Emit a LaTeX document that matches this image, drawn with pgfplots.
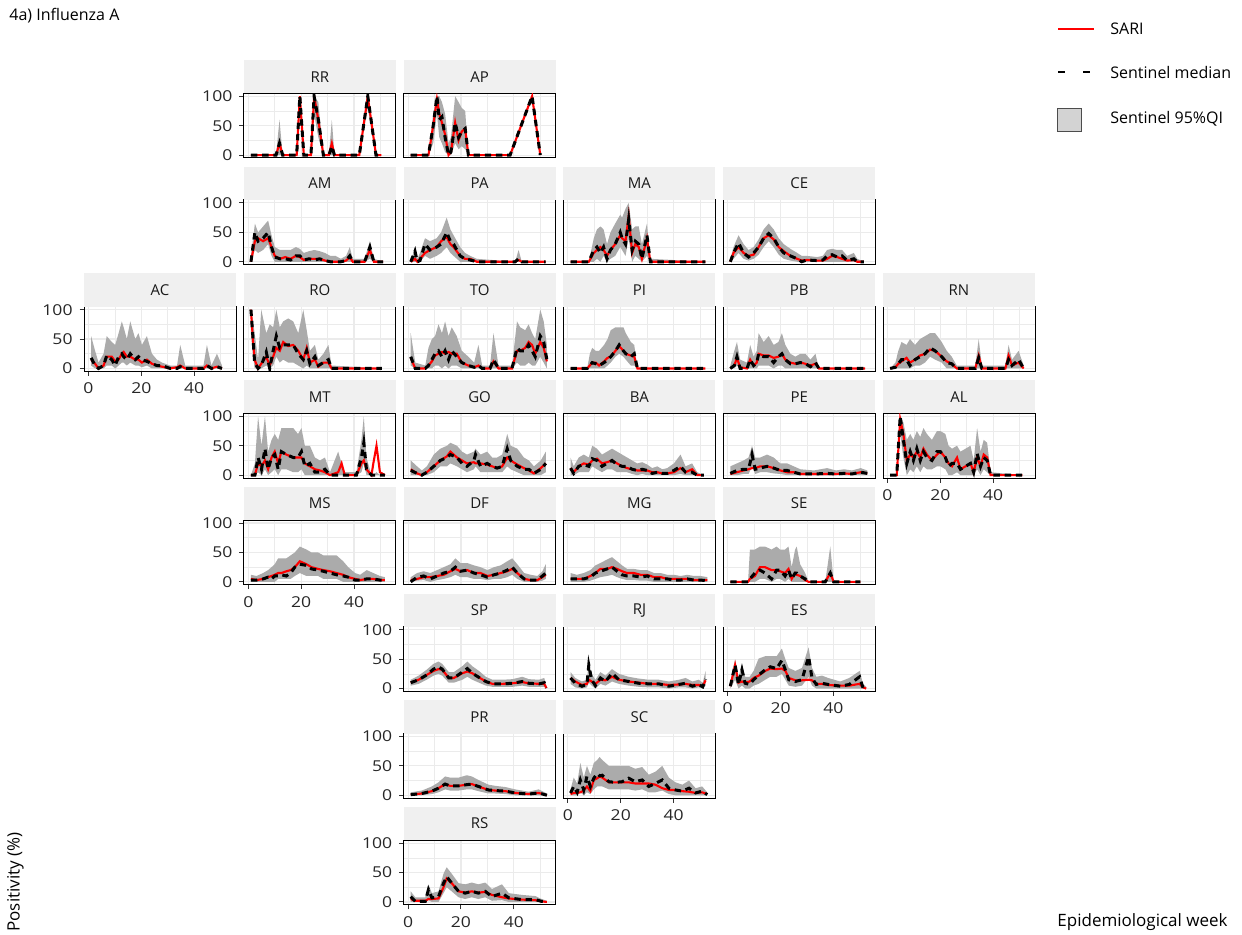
\documentclass[border=0pt]{standalone}
\usepackage{fontspec}
\setmainfont{Open Sans}
\newfontfamily\tickfontfam{Open Sans}[FakeStretch=1.17]
\usepackage{pgfplots}
\usepackage{pgfplotstable}
\pgfplotsset{compat=1.18}
\usepgfplotslibrary{fillbetween}
\definecolor{bandc}{HTML}{ABABAB}
\definecolor{gridc}{HTML}{EBEBEB}
\definecolor{stripc}{HTML}{F0F0F0}
\definecolor{legbox}{HTML}{D3D3D3}
\definecolor{sarired}{HTML}{FF0000}

% columns: week, lower 95%QI, upper 95%QI, sentinel median, SARI
\pgfplotstableread{
w lo hi med sari
1 0 0 0 0
10.5 0 0 0 0
11.8 0 60 20 20
13 0 0 0 0
18.3 0 0 0 0
19.5 80 100 100 100
21 0 0 0 0
23.7 0 0 0 0
24.9 70 100 100 100
26.5 30 90 60 60
28.4 0 0 0 0
30.5 0 0 0 0
31.6 0 60 15 20
32.6 0 0 0 0
42 0 0 0 0
45.2 80 100 100 100
48.3 0 0 0 0
50.3 0 0 0 0
}\tRR
\pgfplotstableread{
w lo hi med sari
1 0 0 0 0
7.7 0 0 0 0
9.5 20 70 50 50
10.9 70 100 100 95
11.8 30 100 60 70
12.8 20 90 65 55
14 5 70 30 35
15.3 0 20 0 0
16.2 0 30 5 5
17.8 20 100 55 55
19.1 10 90 30 25
20.3 15 80 40 40
21.6 10 75 45 45
22.8 0 0 0 0
38.6 0 0 0 0
46.9 95 100 100 100
50 0 0 0 0
}\tAP
\pgfplotstableread{
w lo hi med sari
1 0 10 0 0
2.5 20 65 50 35
3.7 15 50 35 40
5.6 20 60 40 35
7.5 30 70 50 40
8.8 10 45 25 25
10 0 25 8 10
12 0 20 5 5
14 0 20 5 8
16 0 20 3 5
18 0 25 10 10
19.5 0 22 10 8
21 0 15 3 3
23 0 18 5 5
25 0 20 3 5
27 0 18 5 5
29 0 15 2 2
31 0 10 0 0
33 0 10 0 0
35 0 5 0 0
37 0 10 2 2
38.4 0 25 10 8
39.5 0 5 0 0
44 0 5 0 0
46 5 35 25 20
47.5 0 5 0 0
51 0 0 0 0
}\tAM
\pgfplotstableread{
w lo hi med sari
1 0 0 0 0
2.6 0 25 18 5
3.5 0 5 0 0
4.5 0 15 2 5
6.4 10 40 30 15
8.3 5 35 20 20
10.8 10 40 25 25
12.5 15 50 30 35
14.6 25 75 50 42
16 15 55 35 30
17.2 10 45 30 25
19.7 0 25 10 10
21.5 0 15 5 5
23.5 0 10 3 5
26 0 5 0 0
40.5 0 0 0 0
41.8 0 20 5 3
43 0 0 0 0
52 0 0 0 0
}\tPA
\pgfplotstableread{
w lo hi med sari
1 0 0 0 0
7.9 0 0 0 0
9.8 0 40 20 15
11 5 55 25 20
12.3 0 60 15 25
13.5 10 55 25 20
14.8 0 30 5 10
16.1 5 50 20 20
17.9 10 65 30 30
19.8 25 80 50 45
20.5 20 75 40 40
21.8 10 90 30 35
23 40 100 72 78
24.3 0 55 20 15
25.5 10 60 35 30
26.8 5 60 30 25
28 0 30 5 5
29.9 10 65 45 40
31.2 0 5 0 0
52 0 0 0 0
}\tMA
\pgfplotstableread{
w lo hi med sari
1 0 5 0 0
2.2 5 25 15 15
4.1 15 45 32 25
6 5 30 15 15
7.9 2 20 8 10
9.8 5 25 15 12
11.7 12 38 25 25
13.6 25 55 40 40
15.5 35 65 48 45
17.4 25 55 40 38
19.3 12 40 25 25
21.2 5 30 15 18
23.7 2 22 10 10
26.3 0 15 5 5
28 0 10 0 2
30 0 10 3 3
33.8 0 8 2 2
36 0 10 3 2
37.6 0 20 10 5
39.5 0 22 12 10
41.4 0 20 8 8
43.3 0 20 10 5
45.2 0 10 2 2
47.7 0 15 5 3
49 0 5 0 0
51.5 0 0 0 0
}\tCE
\pgfplotstableread{
w lo hi med sari
1 5 55 18 15
2.5 0 30 5 8
3.8 0 10 0 0
5.7 0 25 5 5
6.9 5 55 22 20
8.8 5 45 15 20
10.1 0 40 5 12
11.4 5 60 20 15
12.6 10 80 25 25
13.3 10 70 20 28
14.5 5 50 15 20
15.8 10 80 25 20
17.7 5 50 15 15
18.9 5 60 20 15
20.2 2 40 15 10
22.1 5 55 12 15
24 0 25 8 8
25.9 0 15 5 5
27.8 0 10 5 3
30.9 0 5 0 0
33.5 0 5 0 2
34.7 0 40 3 5
36.6 0 5 0 0
43.5 0 5 0 0
44.8 0 40 5 5
46.5 0 5 0 0
48.6 0 25 3 3
50.5 0 5 0 0
}\tAC
\pgfplotstableread{
w lo hi med sari
1 60 100 100 100
1.8 20 80 50 45
2.4 0 60 10 15
3.7 0 15 0 0
4.9 0 100 5 8
6.8 5 60 28 20
8.1 0 75 0 5
9.4 5 70 30 20
10.6 20 100 55 35
11.9 10 70 35 30
13.2 15 80 40 45
15.1 10 85 40 38
17 10 80 40 40
18.9 5 60 25 30
20.8 0 100 15 15
22.1 5 65 30 35
23.3 0 30 8 10
25.2 0 40 20 15
26.5 0 15 5 3
28.4 0 25 10 10
30.3 0 40 15 10
31.5 0 5 0 0
50.5 0 0 0 0
}\tRO
\pgfplotstableread{
w lo hi med sari
1 5 60 20 18
2.7 0 10 0 0
6.5 0 5 0 0
7.7 0 35 5 5
9 0 50 15 12
10.2 5 55 25 22
11.5 5 75 30 25
12.8 0 60 20 28
14 5 80 30 25
15.3 0 55 15 28
16.5 5 70 30 25
18.4 5 55 20 25
20.3 0 30 10 10
22.8 0 20 5 5
25 0 10 2 2
26.6 0 40 5 5
28 0 5 0 0
31 0 5 0 0
32.3 0 60 15 12
34.2 0 5 0 0
39.3 0 5 0 0
41.2 10 80 35 30
42.4 5 70 30 30
44.3 5 65 30 35
45.6 10 75 40 45
46.9 5 60 30 40
48.1 5 50 20 25
50 20 100 55 45
51.3 10 80 45 35
52.5 0 40 15 12
}\tTO
\pgfplotstableread{
w lo hi med sari
1 0 0 0 0
7.3 0 0 0 0
8.3 0 25 5 5
9.2 0 35 10 10
10.5 0 30 8 10
11.8 0 30 5 5
13.7 0 40 10 12
15 5 50 15 18
16.2 10 65 20 20
18 20 70 30 30
19.4 25 70 40 38
21 20 70 30 30
21.9 15 60 25 25
23.8 5 45 20 22
25.1 5 40 25 20
26.3 0 0 0 0
52 0 0 0 0
}\tPI
\pgfplotstableread{
w lo hi med sari
1 0 5 0 0
2.5 0 30 5 5
3.5 5 45 20 18
4.7 0 15 0 2
7.3 0 10 0 0
8.5 0 40 15 15
9.8 0 20 5 5
11 0 30 10 10
11.7 5 60 25 25
13.6 5 45 20 22
15.5 5 55 20 22
17.4 0 40 10 18
19.2 5 45 20 20
20.5 5 60 25 25
21.8 0 40 15 15
23.7 0 25 8 10
25.6 0 20 8 8
27.5 0 25 10 10
29.4 0 25 8 8
31.3 0 15 3 5
33.2 0 25 10 8
34.5 0 0 0 0
52 0 0 0 0
}\tPB
\pgfplotstableread{
w lo hi med sari
1 0 0 0 0
3 0 10 2 2
4.1 0 30 8 8
5.3 0 45 15 12
7.2 0 40 15 18
8.5 0 50 5 10
10.4 5 40 15 15
12.3 5 50 20 22
14.2 10 55 25 25
16.1 20 60 35 32
18 15 60 30 30
20.5 10 45 20 20
22.4 0 30 10 12
24.3 0 20 8 8
26.2 0 5 0 0
33.2 0 5 0 0
34.5 0 50 18 22
35.7 0 5 0 0
44.6 0 5 0 0
45.8 0 40 15 22
47.1 0 15 5 5
49.6 0 30 15 10
51.5 0 5 0 0
}\tRN
\pgfplotstableread{
w lo hi med sari
1 0 0 0 0
2.5 0 20 0 0
3.7 5 100 30 20
5 0 50 10 15
6.3 10 100 45 25
7.5 0 40 10 10
8.8 5 60 30 30
10 10 70 35 40
11.3 0 60 10 20
12.5 10 80 40 40
14.4 10 80 35 35
17 5 80 30 30
18.8 5 70 30 30
20.1 10 80 40 30
21.4 0 50 15 20
23.3 0 50 20 15
25.2 0 30 5 10
27.1 0 25 5 8
29 0 30 10 5
30.9 0 5 0 0
34 0 40 0 5
35.3 0 20 0 20
36.5 0 5 0 0
40.9 0 5 0 0
42.8 5 60 30 20
43.7 20 100 55 25
44.7 0 30 10 10
46.6 0 0 0 0
47.3 0 0 0 20
48.5 0 5 0 50
49.8 0 0 0 5
51.7 0 0 0 0
}\tMT
\pgfplotstableread{
w lo hi med sari
1 0 25 8 10
3.4 0 15 3 3
5.2 0 8 0 0
7.1 0 15 5 5
9.7 5 35 15 15
12.2 15 45 25 25
14.7 15 50 30 32
16 20 55 35 40
18.5 15 50 30 30
20.4 10 40 20 25
22.3 5 35 15 20
24.9 10 40 25 22
25.5 15 45 35 20
27.4 5 35 15 20
29.9 5 40 20 18
31.8 5 30 15 15
33.7 5 30 12 12
35.6 5 35 15 15
37.5 15 70 45 30
38.8 10 50 25 25
41.3 5 45 15 18
43.8 0 30 10 12
45.7 0 25 10 8
47.6 0 15 3 3
50.2 0 25 10 12
52.1 5 40 20 20
}\tGO
\pgfplotstableread{
w lo hi med sari
1 0 30 12 12
2.2 0 15 3 5
4.1 5 30 15 15
6 5 35 18 20
7.9 5 30 15 18
9.2 15 50 28 25
11 10 45 25 28
12.9 5 35 15 20
14.8 10 40 20 22
16.7 10 45 25 25
18.6 5 40 18 20
20.5 5 35 15 15
22.4 5 30 15 12
24.3 2 25 10 10
26.2 0 20 8 8
28.1 2 22 10 8
30 0 18 8 8
31.9 0 12 3 5
33.8 0 15 5 5
35.7 0 10 3 3
37.6 0 12 3 3
40.1 0 20 8 5
42.6 2 35 15 12
44.5 0 15 5 5
47 0 20 5 10
48.9 0 5 0 0
51.4 0 0 0 0
}\tBA
\pgfplotstableread{
w lo hi med sari
1 0 15 3 2
3.5 0 20 8 5
6 2 25 10 8
7.9 2 30 10 10
9.2 15 50 35 12
10.4 2 30 10 12
12.3 5 30 12 15
14.9 5 35 15 15
17.4 3 30 12 12
19.9 2 20 8 8
22.5 0 20 8 5
25 0 15 5 5
27.5 0 10 2 2
32.6 0 8 2 2
37.6 0 12 3 2
41 0 8 2 2
44 0 10 3 3
47 0 8 2 2
50.3 0 12 5 5
52.8 0 8 3 3
}\tPE
\pgfplotstableread{
w lo hi med sari
1 0 0 0 0
3.5 0 0 0 0
4.8 70 100 100 95
6 30 90 60 70
7.3 0 60 20 25
8.6 10 70 40 35
9.8 5 60 25 30
11.1 15 75 45 40
12.4 5 65 25 30
13.6 15 80 40 45
14.9 10 70 30 35
16.8 10 60 25 25
18.7 15 75 40 35
20 15 75 40 40
21.9 10 70 30 30
23.1 0 50 15 20
24.4 0 45 20 15
26.3 5 50 20 30
27.6 0 40 10 10
29.5 0 45 15 15
31.4 0 50 20 20
32.6 0 25 5 5
33.9 10 80 37 30
35.2 0 40 15 15
36.4 10 60 30 35
37.7 5 55 25 30
39 0 5 0 0
51 0 0 0 0
}\tAL
\pgfplotstableread{
w lo hi med sari
1 0 12 3 5
3.1 0 10 3 3
5.6 0 15 5 5
7.5 0 20 8 8
8.8 0 25 5 10
10 0 30 10 12
11.3 5 40 10 15
12.5 5 40 12 15
14.4 5 40 10 18
16 5 45 15 20
17.6 10 50 25 25
19.5 15 60 30 35
22 10 55 28 30
23.9 10 50 22 25
26.4 10 50 20 22
28.4 5 45 18 20
30.9 5 45 15 18
33.4 5 45 12 15
35.9 0 35 10 12
37.8 0 25 8 8
40.4 0 15 3 5
42.3 0 12 3 3
44.8 0 20 5 5
47.3 0 15 5 5
49.8 0 10 3 3
51.7 0 8 3 3
}\tMS
\pgfplotstableread{
w lo hi med sari
1 0 8 0 3
3.4 2 15 8 5
5.9 3 18 10 8
8.4 0 15 5 8
11 3 20 10 10
13.5 5 25 15 12
16 8 30 18 18
17.9 12 40 25 22
19.8 8 32 18 18
22.4 8 32 20 20
24.9 5 28 15 15
27.4 5 25 12 15
30 3 20 8 10
32.5 5 25 12 12
35 5 28 15 15
37.5 8 35 20 18
39.4 12 40 25 22
41.3 5 30 15 15
43.9 0 15 5 5
46.4 0 12 3 3
48.9 0 10 3 3
50.8 2 18 10 8
52.1 5 30 15 12
}\tDF
\pgfplotstableread{
w lo hi med sari
1 0 15 5 5
3.4 0 12 5 5
6 0 15 5 5
8.5 2 20 8 10
10.4 5 28 15 15
12.3 8 32 18 22
14.8 10 38 22 22
16.7 12 42 25 25
18.6 8 35 18 22
20.5 5 28 12 18
22.4 3 22 10 15
25 3 22 10 15
27.5 2 20 8 12
30 2 20 10 12
32.6 0 15 5 8
35.1 0 15 5 8
37.6 0 12 5 5
40.1 0 12 3 5
42.6 0 10 3 5
45.2 0 12 5 5
47.7 0 10 3 3
50.2 0 10 3 3
52.8 0 8 2 3
}\tMG
\pgfplotstableread{
w lo hi med sari
1 0 0 0 0
7.7 0 0 0 0
8.4 0 55 5 5
10.3 0 55 15 10
12.2 5 60 20 25
14.1 5 60 15 25
16.6 0 55 5 20
18.5 5 60 20 20
19.8 5 55 20 18
21.7 0 55 10 15
23 5 60 20 22
24.2 0 25 5 5
25.5 0 55 15 15
26.1 0 60 15 12
27.4 0 30 10 10
29.3 0 15 5 3
30.6 0 0 0 0
36.9 0 0 0 0
38.8 0 60 15 15
40.1 0 0 0 0
50.2 0 0 0 0
}\tSE
\pgfplotstableread{
w lo hi med sari
1 5 15 10 10
4 8 22 15 15
7 15 32 23 23
9.6 22 42 33 30
11.5 25 46 37 33
12.9 22 42 33 32
15.4 10 28 18 18
17.3 10 28 18 18
20.5 15 38 28 26
22.4 20 46 34 29
24.3 15 38 26 26
26.8 10 30 19 19
29.4 5 20 12 12
31.9 3 15 8 8
35.7 3 15 8 8
39.5 3 16 9 9
43.2 5 20 12 11
45.7 3 16 9 9
49.5 3 15 8 8
51.5 3 18 10 8
52.3 0 5 1 1
}\tSP
\pgfplotstableread{
w lo hi med sari
1 8 28 18 18
2.8 2 18 9 12
5.3 0 12 4 6
7.2 2 15 7 8
7.9 10 45 40 15
9 5 25 15 12
10.4 0 15 5 8
12.3 8 28 18 15
14.2 5 22 12 14
16.7 12 33 26 20
19.3 8 25 15 15
23 5 20 12 12
26.8 3 17 9 10
30.6 2 15 8 8
34.4 2 15 8 8
38.2 0 12 4 6
42 2 15 7 7
44.5 2 18 9 8
47.1 0 12 4 6
49.5 2 15 7 6
51 0 10 3 4
52.1 5 30 16 14
}\tRJ
\pgfplotstableread{
w lo hi med sari
1 0 12 4 4
2.8 15 50 40 40
4.1 0 20 7 10
5.4 5 40 32 12
6.6 0 20 9 10
8.3 0 20 7 12
9.8 5 30 15 18
11.7 8 51 23 22
14.2 15 55 32 30
16.1 20 55 37 34
18.5 20 55 34 33
20.5 25 68 48 34
21.8 15 50 32 30
23.1 5 35 15 18
25.6 3 30 12 14
28.1 5 35 15 14
30.6 20 70 54 15
31.9 5 35 18 14
33.5 0 20 7 8
35.7 0 22 9 8
38 0 18 7 6
42.6 0 12 4 5
46 0 18 7 5
49.9 0 30 20 8
51.2 0 8 1 2
52.4 0 3 0 0
}\tES
\pgfplotstableread{
w lo hi med sari
1 0 5 1 1
5.2 0 8 3 3
9 2 15 7 7
11.5 5 22 12 12
14 10 32 19 19
15.9 8 30 16 16
19.1 8 30 16 16
22.2 10 34 18 18
24.1 10 32 19 19
26.6 7 26 15 15
30.4 3 18 9 9
33 3 16 8 8
36.8 2 14 7 7
40.5 0 10 4 4
45.6 0 6 2 2
49.4 0 10 4 4
52.5 0 3 0 0
}\tPR
\pgfplotstableread{
w lo hi med sari
1 0 10 4 2
2.2 0 30 15 4
3.5 0 20 5 4
4.7 5 55 26 5
6 0 30 9 8
7.2 5 50 32 15
8.5 2 35 15 7
9.8 10 55 29 26
11.1 15 60 37 29
12 15 65 33 32
13 15 60 34 30
15.5 10 50 23 22
18 10 50 22 22
20.5 10 50 23 22
23 10 50 29 22
25.5 8 45 23 20
28.1 10 48 26 20
30.6 5 35 15 20
33.1 5 40 20 18
35.7 8 50 26 12
38.2 2 30 12 9
40.7 0 22 9 9
43.3 0 18 7 7
45.8 0 25 12 6
48.3 0 12 4 4
50.8 0 15 7 5
52.7 0 5 1 2
}\tSC
\pgfplotstableread{
w lo hi med sari
1 0 18 9 5
2.7 0 8 1 2
6.5 0 8 1 2
7.7 3 30 21 5
9 0 15 7 5
11.5 0 18 9 6
13.4 15 48 32 25
14.6 25 59 43 40
16.5 18 48 32 32
19.1 8 32 18 18
21.6 5 30 15 16
24.1 8 33 18 18
26.6 5 30 15 16
29.2 8 33 18 17
31.7 2 22 9 12
35.5 3 30 15 8
38.1 0 15 7 6
43.1 0 12 4 4
48.2 0 10 4 3
50.5 0 5 1 1
52.5 0 2 0 0
}\tRS

\newcommand\tickfont{\tickfontfam\fontsize{7.5}{9}\selectfont}
\newcommand\stripfont{\fontsize{7.5}{9}\selectfont}

\pgfplotsset{
  panel/.style={
    scale only axis, width=76pt, height=32.35pt, anchor=south west,
    xmin=-1.7, xmax=55.8, ymin=-5, ymax=105,
    xtick={0,20,40}, ytick={0,50,100},
    minor xtick={10,30,50}, minor ytick={25,75},
    grid=both,
    major grid style={gridc, line width=0.55pt},
    minor grid style={gridc, line width=0.35pt},
    axis line style={black, line width=0.5pt},
    xticklabels={}, yticklabels={},
    xtick pos=bottom, ytick pos=left,
    major tick length=2.2pt, minor tick length=0pt, tick align=outside,
    xtick style={draw=none}, ytick style={draw=none},
    tick label style={font=\tickfont, text=black!85},
    /pgf/number format/assume math mode=true,
  },
  xshow/.style={xticklabels={0,20,40}, xtick style={draw=black!80, line width=0.5pt}},
  yshow/.style={yticklabels={0,50,100}, ytick style={draw=black!80, line width=0.5pt}},
  sari/.style={sarired, line width=1.05pt},
  med/.style={black, line width=1.5pt, dash pattern=on 3.2pt off 2.4pt},
}

\newcommand{\panel}[5]{%
  \pgfmathsetlengthmacro\pL{(84+159.8*#2)*0.5pt}%
  \pgfmathsetlengthmacro\pB{-(158+106.7*#3)*0.5pt}%
  \pgfmathsetlengthmacro\pT{-(158+106.7*#3-64.7)*0.5pt}%
  \begin{axis}[panel, at={(\pL,\pB)}, #5]
    \addplot[name path=hi, draw=none] table[x=w,y=hi]{#4};
    \addplot[name path=lo, draw=none] table[x=w,y=lo]{#4};
    \addplot[bandc, draw=none] fill between[of=hi and lo];
    \addplot[sari] table[x=w,y=sari]{#4};
    \addplot[med] table[x=w,y=med]{#4};
  \end{axis}
  \fill[stripc] (\pL,\pT) rectangle ++(76pt,16.65pt);
  \node[font=\stripfont, text=black!90] at (\pL+38pt,\pT+8.3pt) {#1};
}

\begin{document}
\begin{tikzpicture}
\path (0,0) rectangle (621pt,-467pt);
\panel{RR}{1}{0}{\tRR}{yshow}
\panel{AP}{2}{0}{\tAP}{}
\panel{AM}{1}{1}{\tAM}{yshow}
\panel{PA}{2}{1}{\tPA}{}
\panel{MA}{3}{1}{\tMA}{}
\panel{CE}{4}{1}{\tCE}{}
\panel{AC}{0}{2}{\tAC}{xshow,yshow}
\panel{RO}{1}{2}{\tRO}{}
\panel{TO}{2}{2}{\tTO}{}
\panel{PI}{3}{2}{\tPI}{}
\panel{PB}{4}{2}{\tPB}{}
\panel{RN}{5}{2}{\tRN}{}
\panel{MT}{1}{3}{\tMT}{yshow}
\panel{GO}{2}{3}{\tGO}{}
\panel{BA}{3}{3}{\tBA}{}
\panel{PE}{4}{3}{\tPE}{}
\panel{AL}{5}{3}{\tAL}{xshow}
\panel{MS}{1}{4}{\tMS}{xshow,yshow}
\panel{DF}{2}{4}{\tDF}{}
\panel{MG}{3}{4}{\tMG}{}
\panel{SE}{4}{4}{\tSE}{}
\panel{SP}{2}{5}{\tSP}{yshow}
\panel{RJ}{3}{5}{\tRJ}{}
\panel{ES}{4}{5}{\tES}{xshow}
\panel{PR}{2}{6}{\tPR}{yshow}
\panel{SC}{3}{6}{\tSC}{xshow}
\panel{RS}{2}{7}{\tRS}{xshow,yshow}
% title and axis titles
\node[anchor=base west, inner sep=0pt, font=\fontsize{8}{10}\selectfont] at (4.5pt,-10.3pt) {4a) Influenza A};
\node[anchor=base west, inner sep=0pt, font=\fontsize{8.5}{10}\selectfont] at (528.5pt,-463.3pt) {Epidemiological week};
\node[anchor=base west, inner sep=0pt, rotate=90, font=\fontsize{8.5}{10}\selectfont] at (9.8pt,-466pt) {Positivity (\%)};
% legend
\draw[sarired, line width=1pt] (529pt,-14.5pt) -- (547pt,-14.5pt);
\node[anchor=base west, inner sep=0pt, font=\fontsize{8}{10}\selectfont] at (555pt,-17.5pt) {SARI};
\draw[black, line width=1.3pt] (529pt,-36pt) -- (532.5pt,-36pt) (541.5pt,-36pt) -- (545pt,-36pt);
\node[anchor=base west, inner sep=0pt, font=\fontsize{8}{10}\selectfont] at (555pt,-39.2pt) {Sentinel median};
\filldraw[fill=legbox, draw=black!70, line width=0.5pt] (528.7pt,-54.3pt) rectangle (540.5pt,-65.8pt);
\node[anchor=base west, inner sep=0pt, font=\fontsize{8}{10}\selectfont] at (555pt,-62pt) {Sentinel 95\%QI};
\end{tikzpicture}
\end{document}
